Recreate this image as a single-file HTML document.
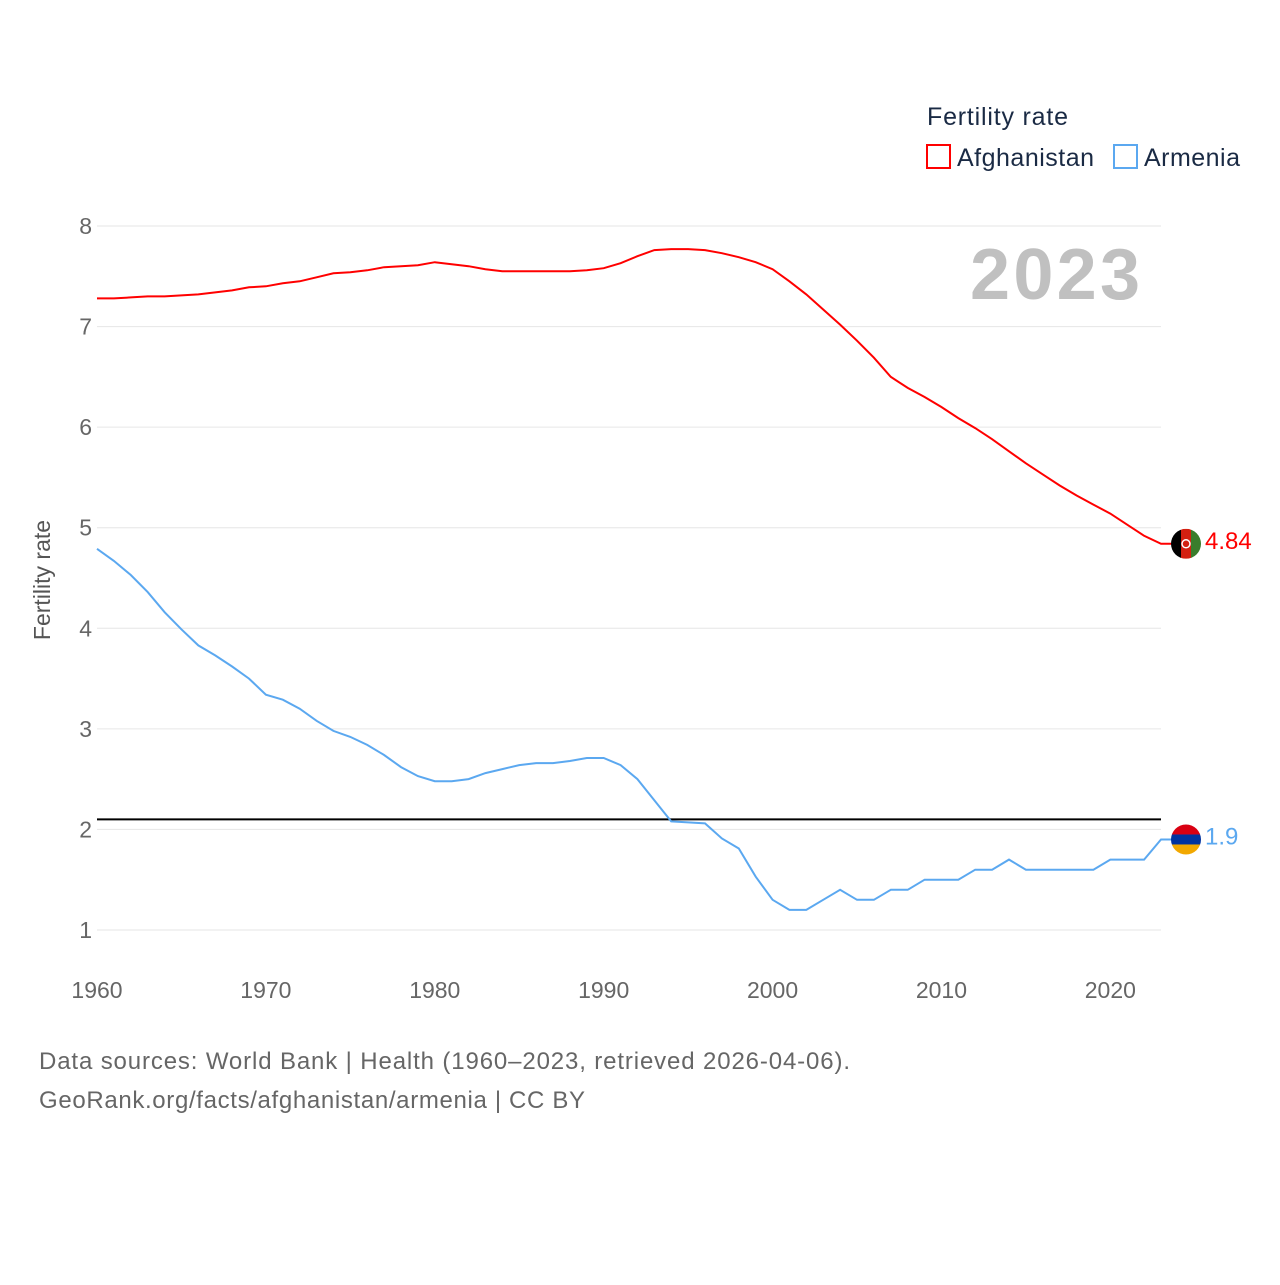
<!DOCTYPE html>
<html><head><meta charset="utf-8">
<style>
html,body{margin:0;padding:0;background:#fff;}
body{width:1280px;height:1280px;position:relative;font-family:"Liberation Sans",sans-serif;overflow:hidden;}
svg text{font-family:"Liberation Sans",sans-serif;}
</style></head>
<body>
<svg id="chart" width="1280" height="1280" xmlns="http://www.w3.org/2000/svg">
  <text x="927" y="125" font-size="25" fill="#1a2a44" textLength="141">Fertility rate</text>
  <rect x="927" y="145" width="23" height="23" fill="none" stroke="#ff0000" stroke-width="2"/>
  <text x="957" y="166" font-size="25" fill="#1a2a44" textLength="137">Afghanistan</text>
  <rect x="1114" y="145" width="23" height="23" fill="none" stroke="#5ba8f0" stroke-width="2"/>
  <text x="1144" y="166" font-size="25" fill="#1a2a44" textLength="96">Armenia</text>
  <text x="970" y="299" font-size="72" font-weight="bold" fill="#c0c0c0" textLength="170">2023</text>
  <text transform="translate(50,580) rotate(-90)" font-size="23" fill="#555" text-anchor="middle">Fertility rate</text>
  <g id="grid"></g><g id="marks"></g>
  <text x="39" y="1069" font-size="24" fill="#666" textLength="811">Data sources: World Bank | Health (1960–2023, retrieved 2026-04-06).</text>
  <text x="39" y="1108" font-size="24" fill="#666" textLength="546">GeoRank.org/facts/afghanistan/armenia | CC BY</text>
</svg>
<script>
const years=[];for(let y=1960;y<=2023;y++)years.push(y);
const afghanistan=[7.28,7.28,7.29,7.30,7.30,7.31,7.32,7.34,7.36,7.39,7.40,7.43,7.45,7.49,7.53,7.54,7.56,7.59,7.60,7.61,7.64,7.62,7.60,7.57,7.55,7.55,7.55,7.55,7.55,7.56,7.58,7.63,7.70,7.76,7.77,7.77,7.76,7.73,7.69,7.64,7.57,7.45,7.32,7.17,7.02,6.86,6.69,6.50,6.39,6.30,6.20,6.09,5.99,5.88,5.76,5.64,5.53,5.42,5.32,5.23,5.14,5.03,4.92,4.84];
const armenia=[4.79,4.67,4.53,4.36,4.16,3.99,3.83,3.73,3.62,3.50,3.34,3.29,3.20,3.08,2.98,2.92,2.84,2.74,2.62,2.53,2.48,2.48,2.50,2.56,2.60,2.64,2.66,2.66,2.68,2.71,2.71,2.64,2.50,2.29,2.08,2.07,2.06,1.91,1.81,1.53,1.30,1.20,1.20,1.30,1.40,1.30,1.30,1.40,1.40,1.50,1.50,1.50,1.60,1.60,1.70,1.60,1.60,1.60,1.60,1.60,1.70,1.70,1.70,1.90];
const yTicks=[1,2,3,4,5,6,7,8];
const xTicks=[1960,1970,1980,1990,2000,2010,2020];
const replacementRate=[2.1];
const X=v=>97+(v-1960)*(1161-97)/63;
const Y=v=>930-(v-1)*(930-226)/7;
const NS="http://www.w3.org/2000/svg";
const grid=document.getElementById('grid'),marks=document.getElementById('marks');
function el(t,a,p){const e=document.createElementNS(NS,t);for(const k in a)e.setAttribute(k,a[k]);p.appendChild(e);return e;}
yTicks.forEach(v=>{
  const l=el('line',{x1:97,x2:1161,y1:Y(v),y2:Y(v),stroke:'#e6e6e6','stroke-width':1},grid);
  
  
  const t=el('text',{x:92,y:Y(v)+8,'font-size':23,fill:'#666','text-anchor':'end'},grid);t.textContent=v;
  
  
});
xTicks.forEach(v=>{
  const t=el('text',{x:X(v),y:998,'font-size':23,fill:'#666','text-anchor':'middle'},grid);t.textContent=v;
  
  
});
replacementRate.forEach(v=>{
  const l=el('line',{x1:97,x2:1161,y1:Y(v),y2:Y(v),stroke:'#000','stroke-width':2},marks);
  
  
});
function series(data,color,name){
  const last=data[data.length-1];
  const d=data.map((v,i)=>(i?'L':'M')+X(years[i]).toFixed(1)+','+Y(v).toFixed(1)).join('')+'L1172,'+Y(last).toFixed(1);
  const p=el('path',{d:d,fill:'none',stroke:color,'stroke-width':2},marks);
  
  
  const t=el('text',{x:1205,y:Y(last)+5,'font-size':24,fill:color},marks);t.textContent=last;
  
  
  return Y(last);
}
const ya=series(afghanistan,'#ff0000','afghanistan');
const yb=series(armenia,'#5ba8f0','armenia');
const fa=el('g',{},marks);


el('clipPath',{id:'ca'},fa).appendChild(document.createElementNS(NS,'circle'));
const ca=fa.querySelector('circle');ca.setAttribute('cx',1186);ca.setAttribute('cy',ya);ca.setAttribute('r',15);
el('rect',{x:1171,y:ya-15,width:10,height:30,fill:'#000','clip-path':'url(#ca)'},fa);
el('rect',{x:1181,y:ya-15,width:10,height:30,fill:'#d32011','clip-path':'url(#ca)'},fa);
el('rect',{x:1191,y:ya-15,width:10,height:30,fill:'#3a7d2c','clip-path':'url(#ca)'},fa);
el('circle',{cx:1186,cy:ya,r:4,fill:'none',stroke:'#fff','stroke-width':1.5},fa);
const fb=el('g',{},marks);


el('clipPath',{id:'cb'},fb).appendChild(document.createElementNS(NS,'circle'));
const cb=fb.querySelector('circle');cb.setAttribute('cx',1186);cb.setAttribute('cy',yb);cb.setAttribute('r',15);
el('rect',{x:1171,y:yb-15,width:30,height:10,fill:'#d90012','clip-path':'url(#cb)'},fb);
el('rect',{x:1171,y:yb-5,width:30,height:10,fill:'#0033a0','clip-path':'url(#cb)'},fb);
el('rect',{x:1171,y:yb+5,width:30,height:10,fill:'#f2a800','clip-path':'url(#cb)'},fb);
</script>
</body></html>
